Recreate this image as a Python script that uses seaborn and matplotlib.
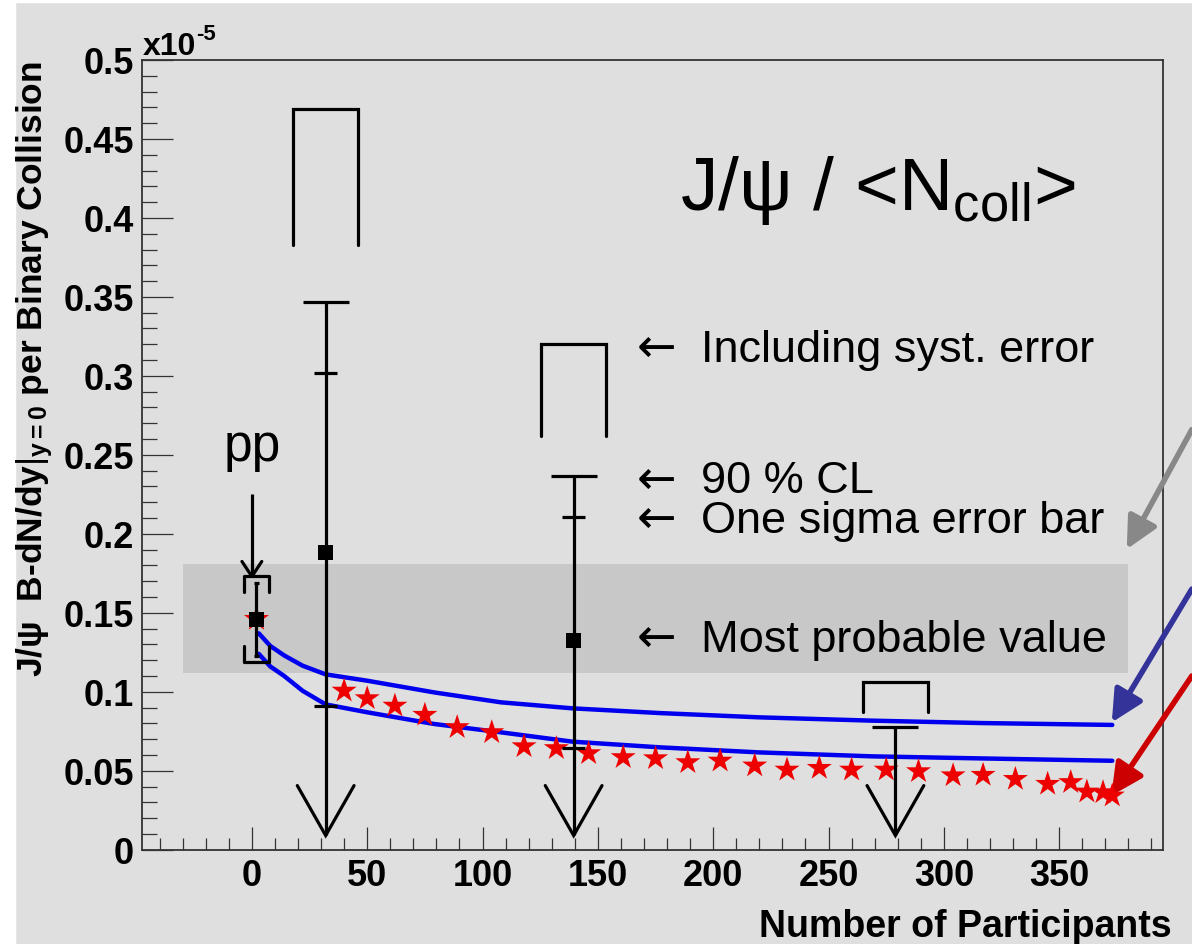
import numpy as np
import matplotlib
matplotlib.use("Agg")
import matplotlib.pyplot as plt
import seaborn as sns
from matplotlib.ticker import MultipleLocator, FuncFormatter
from matplotlib.patches import Rectangle

sns.set_theme(style="white")
plt.rcParams["font.family"] = ["Liberation Sans", "DejaVu Sans"]
plt.rcParams["mathtext.fontset"] = "custom"
plt.rcParams["mathtext.rm"] = "Liberation Sans"
plt.rcParams["mathtext.it"] = "Liberation Sans:italic"
plt.rcParams["mathtext.bf"] = "Liberation Sans:bold"
for k in ["text.color", "axes.labelcolor", "xtick.color", "ytick.color"]:
    plt.rcParams[k] = "black"

# ---------------- data (units of 1e-5) ----------------
star_npart = [2, 40, 50, 62, 75, 89, 104, 118, 132, 146, 161, 175, 189, 203,
              218, 232, 246, 260, 275, 289, 304, 317, 331, 345, 355, 362, 369, 373]
star_yield = [0.146, 0.1006, 0.0958, 0.0911, 0.0853, 0.0775, 0.0743, 0.0654,
              0.0642, 0.0610, 0.0585, 0.0578, 0.0553, 0.0563, 0.0532, 0.0506,
              0.0517, 0.0506, 0.0506, 0.0496, 0.0470, 0.0473, 0.0447, 0.0416,
              0.0427, 0.0367, 0.0363, 0.0342]

curve_npart = [3, 8, 14, 22, 32, 50, 79, 108, 139, 177, 220, 269, 316, 373]
curve_upper = [0.137, 0.129, 0.123, 0.1165, 0.111, 0.107, 0.0996, 0.0933,
               0.0895, 0.0865, 0.0838, 0.0817, 0.0802, 0.079]
curve_lower = [0.124, 0.116, 0.110, 0.1006, 0.092, 0.087, 0.0796, 0.0743,
               0.0684, 0.0648, 0.0616, 0.0591, 0.0578, 0.0563]

ul_npart = [32, 139.5, 279]
ul_most_probable = [0.188, 0.1325, np.nan]
ul_sigma_low = [0.0907, 0.0645, np.nan]
ul_sigma_high = [0.302, 0.2108, np.nan]
ul_cl90 = [0.347, 0.2365, 0.0777]
ul_syst_top = [0.469, 0.320, 0.106]
ul_syst_leg = [0.383, 0.262, 0.087]
ul_arrow_tip = 0.009

pp_npart = 2
pp_value = 0.146
pp_stat = [0.1228, 0.169]
pp_syst = [0.119, 0.173]

band_npart = [-30, 380]
band_range = [0.1116, 0.1808]

xticks = [0, 50, 100, 150, 200, 250, 300, 350]
yticks = [0, 0.05, 0.1, 0.15, 0.2, 0.25, 0.3, 0.35, 0.4, 0.45, 0.5]

key_labels = ["Including syst. error", "90 % CL", "One sigma error bar", "Most probable value"]
key_baselines = [0.3094, 0.2262, 0.2009, 0.1258]

# ---------------- figure ----------------
BG = "#dfdfdf"
fig = plt.figure(figsize=(11.92, 9.45), dpi=100, facecolor=BG)
ax = fig.add_axes([142.3 / 1192, 1 - 850.7 / 945, (1163 - 142.3) / 1192, (850.7 - 61) / 945])
ax.set_facecolor(BG)
fig.patches.append(Rectangle((0, 0), 15 / 1192, 1, transform=fig.transFigure,
                             color="white", zorder=-1))
fig.patches.append(Rectangle((0, 1 - 3 / 945), 1, 3 / 945, transform=fig.transFigure,
                             color="white", zorder=-1))

ax.set_xlim(-47.5, 395)
ax.set_ylim(0, 0.5)

# band of most probable pp range
ax.fill_between(band_npart, band_range[0], band_range[1], color="#c8c8c8", lw=0, zorder=0.5)

# model curves
sns.lineplot(x=curve_npart, y=curve_upper, color="#0000ee", lw=3.2, ax=ax,
             estimator=None, sort=False, zorder=3)
sns.lineplot(x=curve_npart, y=curve_lower, color="#0000ee", lw=3.2, ax=ax,
             estimator=None, sort=False, zorder=3)

# red stars
sns.scatterplot(x=star_npart, y=star_yield, marker="*", s=360, color="#ee0000",
                edgecolor="none", linewidth=0, ax=ax, zorder=4)

LW = 2.3
K = "black"
# upper-limit points
for x, mp, slo, shi, cl, st, sl in zip(ul_npart, ul_most_probable, ul_sigma_low,
                                        ul_sigma_high, ul_cl90, ul_syst_top, ul_syst_leg):
    ax.vlines(x, ul_arrow_tip, cl, color=K, lw=LW, zorder=5)
    ax.hlines(cl, x - 10, x + 10, color=K, lw=LW, zorder=5)
    if not np.isnan(shi):
        ax.hlines([shi, slo], x - 5, x + 5, color=K, lw=LW, zorder=5)
    ax.plot([x - 12.3, x, x + 12.3], [ul_arrow_tip + 0.0316, ul_arrow_tip, ul_arrow_tip + 0.0316],
            color=K, lw=LW, zorder=5, solid_joinstyle="miter")
    ax.plot([x - 14.2, x - 14.2, x + 14.2, x + 14.2], [sl, st, st, sl], color=K, lw=LW,
            zorder=5, solid_joinstyle="miter")
sns.scatterplot(x=ul_npart, y=ul_most_probable, marker="s", s=120, color=K,
                edgecolor="none", ax=ax, zorder=6)

# pp point
ax.vlines(pp_npart, pp_stat[0], pp_stat[1], color=K, lw=LW, zorder=5)
ax.hlines(pp_stat, pp_npart - 1, pp_npart + 1, color=K, lw=LW, zorder=5)
bw, bl = 5.4, 0.010
ax.plot([pp_npart - bw, pp_npart - bw, pp_npart + bw, pp_npart + bw],
        [pp_syst[1] - bl, pp_syst[1], pp_syst[1], pp_syst[1] - bl], color=K, lw=LW, zorder=5)
ax.plot([pp_npart - bw, pp_npart - bw, pp_npart + bw, pp_npart + bw],
        [pp_syst[0] + bl, pp_syst[0], pp_syst[0], pp_syst[0] + bl], color=K, lw=LW, zorder=5)
sns.scatterplot(x=[pp_npart], y=[pp_value], marker="s", s=120, color=K,
                edgecolor="none", ax=ax, zorder=6)
# pp arrow
ax.vlines(0, pp_syst[1], 0.225, color=K, lw=LW, zorder=5)
ax.plot([-4.3, 0, 4.3], [pp_syst[1] + 0.0095, pp_syst[1], pp_syst[1] + 0.0095], color=K, lw=LW, zorder=5)
ax.text(0, 0.247, "pp", fontsize=37, ha="center", va="baseline")

# annotations
ax.text(185.5, 0.4055, r"J/ψ / <N$_{\mathrm{coll}}$>", fontsize=54, ha="left", va="baseline")
for lab, yb in zip(key_labels, key_baselines):
    ax.text(167, yb, "←", fontsize=34, family=["DejaVu Sans"], ha="left",
            va="baseline")
    ax.text(194.5, yb, lab, fontsize=32.5, ha="left", va="baseline")

# arrows coming from the right
for (tx, ty), (sx, sy), c in [((379.3, 0.1903), (407.5, 0.266), "#888888"),
                              ((372.8, 0.0806), (407.5, 0.165), "#333399"),
                              ((372.6, 0.0342), (407.5, 0.110), "#cc0000")]:
    ax.annotate("", xy=(tx, ty), xytext=(sx, sy), xycoords="data", textcoords="data",
                annotation_clip=False,
                arrowprops=dict(arrowstyle="-|>,head_length=0.8,head_width=0.4",
                                color=c, lw=4, mutation_scale=24, shrinkA=0, shrinkB=0))

# axes styling
for side in ["left", "bottom", "top", "right"]:
    ax.spines[side].set_visible(True)
    ax.spines[side].set_color("#333333")
    ax.spines[side].set_linewidth(1.3)
ax.set_xticks(xticks)
ax.set_yticks(yticks)
ax.xaxis.set_minor_locator(MultipleLocator(10))
ax.yaxis.set_minor_locator(MultipleLocator(0.01))
ax.yaxis.set_major_formatter(FuncFormatter(lambda v, p: f"{v:g}"))
ax.tick_params(axis="y", which="major", direction="in", length=22, width=0.9,
               color="#333333", labelcolor="black", labelsize=26, pad=6, left=True, right=False)
ax.tick_params(axis="y", which="minor", direction="in", length=11, width=0.9,
               color="#333333", left=True, right=False)
ax.tick_params(axis="x", which="major", direction="in", length=16.5, width=0.9,
               color="#333333", labelcolor="black", labelsize=26, pad=6, bottom=True, top=False)
ax.tick_params(axis="x", which="minor", direction="in", length=8.6, width=0.9,
               color="#333333", bottom=True, top=False)
for lab in ax.get_xticklabels() + ax.get_yticklabels():
    lab.set_fontweight("bold")

ax.annotate("x10", xy=(0.0, 1.0), xycoords="axes fraction", xytext=(0, 4.5),
            textcoords="offset points", fontsize=23, fontweight="bold",
            ha="left", va="baseline")
ax.annotate("-5", xy=(0.0, 1.0), xycoords="axes fraction", xytext=(39, 15),
            textcoords="offset points", fontsize=16, fontweight="bold",
            ha="left", va="baseline")

ax.set_xlabel("Number of Participants", fontsize=27, fontweight="bold")
ax.xaxis.set_label_coords(1.0088, -0.0966)
ax.xaxis.label.set_ha("right")
ax.xaxis.label.set_va("center")

ax.set_ylabel(r"J/ψ  B-dN/dy$|_{\mathbf{y=0}}$ per Binary Collision", fontsize=25.5,
              fontweight="bold")
ax.yaxis.set_label_coords((35 - 142.3) / 1020.7, 1.0)
ax.yaxis.label.set_rotation_mode("anchor")
ax.yaxis.label.set_ha("right")
ax.yaxis.label.set_va("center")

fig.savefig("out.png", dpi=100, facecolor=BG)
